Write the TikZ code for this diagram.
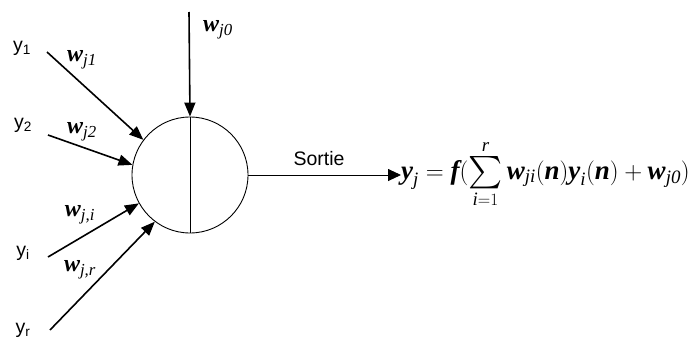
\documentclass[tikz,border=0pt]{standalone}
\usepackage{amsmath}
\usepackage{fontspec}
\setmainfont{Liberation Sans}
\newfontfamily\tms{Liberation Serif}
\usetikzlibrary{positioning,arrows.meta}
\newcommand{\bv}[1]{\text{\tms\bfseries\itshape #1}}
\newcommand{\iv}[1]{\text{\tms\itshape #1}}
\newcommand{\bigsum}{\mathop{\vcenter{\hbox{\scalebox{1.3}{$\sum$}}}}}

\begin{document}
\begin{tikzpicture}[x=1pt,y=-1pt,>={Triangle[length=14pt,width=11pt]},
        neur/.style={circle,draw,line width=0.9pt,minimum size=116pt,inner sep=0pt},
        ylab/.style={inner sep=0pt,font=\fontsize{19.5}{22}\selectfont},
        wlab/.style={inner sep=0pt,font=\fontsize{24}{26}\selectfont},
        arr/.style={->,line width=1.6pt},
        thin/.style={line width=0.9pt}]
  \useasboundingbox (0,0) rectangle (696,340);
  \node[neur](neuron) at (190,175){};
  % entrees
  \node[ylab](y1) at (22,48){y$_\text{1}$};
  \node[ylab](y2) at (23,125){y$_\text{2}$};
  \node[ylab](yi) at (23,253){y$_\text{i}$};
  \node[ylab](yr) at (23,330){y$_\text{r}$};
  \coordinate (t1) at (47,52);
  \coordinate (t2) at (48,135);
  \coordinate (ti) at (48,257);
  \coordinate (tr) at (50,330);
  \coordinate (t0) at (189,12);
  \draw[arr](t1)--(neuron.143);
  \draw[arr](t2)--(neuron.170);
  \draw[arr](ti)--(neuron.209);
  \draw[arr](tr)--(neuron.233);
  \draw[arr](t0)--(neuron.north);
  \draw[thin](neuron.north)--(neuron.south);
  % poids
  \node[wlab](w1) at (82,60){$\bv{w}_{\iv{j1}}$};
  \node[wlab](w2) at (82,132){$\bv{w}_{\iv{j2}}$};
  \node[wlab](wi) at (80,215){$\bv{w}_{\iv{j,i}}$};
  \node[wlab](wr) at (80,270){$\bv{w}_{\iv{j,r}}$};
  \node[wlab](w0) at (218,30){$\bv{w}_{\iv{j0}}$};
  % sortie
  \node[inner sep=0pt,font=\fontsize{27}{30}\selectfont,anchor=base west](formula) at (401,179)
    {$\bv{y}_{\iv{j}}=\bv{f}(\bigsum\limits_{\iv{i}=1}^{\iv{r}}\bv{w}_{\iv{ji}}(\bv{n})\bv{y}_{\iv{i}}(\bv{n})+\bv{w}_{\iv{j0}})$};
  \draw[->,thin,>={Triangle[length=13pt,width=12pt]}](neuron.east)--(neuron.east -| formula.west);
  \node[ylab](sortie) at (319,159){Sortie};
\end{tikzpicture}
\end{document}
